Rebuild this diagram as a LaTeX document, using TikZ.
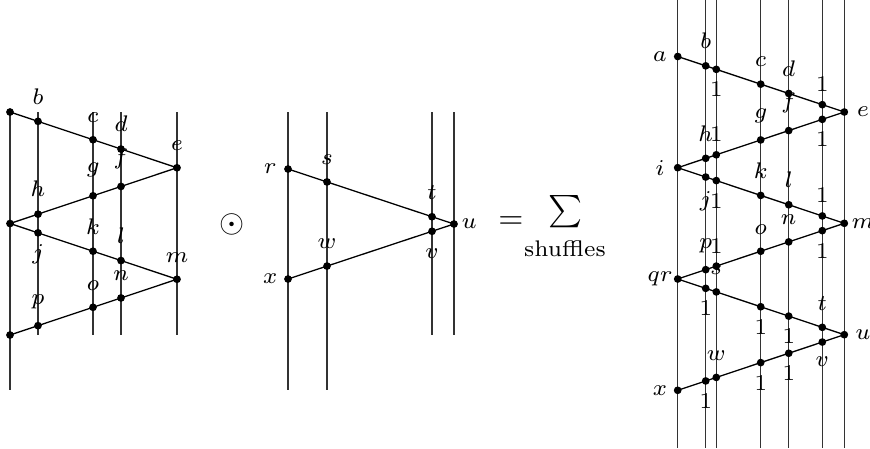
\documentclass[tikz,border=0pt]{standalone}
\usetikzlibrary{backgrounds}
\begin{document}
\begin{tikzpicture}[x=0.31pt,y=-0.31pt,
  dot/.style={circle,fill=black,inner sep=0pt,minimum size=2.4pt},
  vline/.style={line width=0.4pt,black!80},
  edge/.style={line width=0.4pt,black},
  every label/.append style={font=\scriptsize},
  label distance=0.4pt,
  lft/.style={label={[anchor=center,label distance=4.1pt]left:$#1$}},
  rgt/.style={label={[anchor=center,label distance=4.4pt]right:$#1$}},
  one/.style={label={[label distance=-0.9pt]#1:$1$}}]
\useasboundingbox (0,0) rectangle (870,448);

% ---------- left diagram ----------
\node[dot] (La) at (10,112) {};
\node[dot,label=above:$b$] (Lb) at (38,121.35) {};
\node[dot,label=above:$c$] (Lc) at (93,139.71) {};
\node[dot,label=above:$d$] (Ld) at (121,149.06) {};
\node[dot,label=above:$e$] (Le) at (177,167.75) {};
\node[dot,label=above:$f$] (Lf) at (121,186.44) {};
\node[dot,label={[label distance=1pt]above:$g$}] (Lg) at (93,195.79) {};
\node[dot,label=above:$h$] (Lh) at (38,214.15) {};
\node[dot] (Li) at (10,223.5) {};
\node[dot,label={[label distance=-1.4pt]below:$j$}] (Lj) at (38,232.85) {};
\node[dot,label=above:$k$] (Lk) at (93,251.21) {};
\node[dot,label=above:$l$] (Ll) at (121,260.56) {};
\node[dot,label=above:$m$] (Lm) at (177,279.25) {};
\node[dot,label=above:$n$] (Ln) at (121,297.94) {};
\node[dot,label=above:$o$] (Lo) at (93,307.29) {};
\node[dot,label=above:$p$] (Lp) at (38,325.65) {};
\node[dot] (Lq) at (10,335) {};
\coordinate (LB0) at (10,390);
\coordinate (LT1) at (38,112);  \coordinate (LB1) at (38,335);
\coordinate (LT2) at (93,112);  \coordinate (LB2) at (93,335);
\coordinate (LT3) at (121,112); \coordinate (LB3) at (121,335);
\coordinate (LT4) at (177,112); \coordinate (LB4) at (177,335);

% ---------- middle diagram ----------
\node[dot,lft=r] (Mr) at (288,169) {};
\node[dot,label=above:$s$] (Ms) at (327,181.92) {};
\node[dot,label=above:$t$] (Mt) at (432,216.71) {};
\node[dot,label={[anchor=center,label distance=3.3pt]right:$u$}] (Mu) at (454,224) {};
\node[dot,label=below:$v$] (Mv) at (432,231.29) {};
\node[dot,label=above:$w$] (Mw) at (327,266.08) {};
\node[dot,lft=x] (Mx) at (288,279) {};
\coordinate (MT1) at (288,112); \coordinate (MB1) at (288,390);
\coordinate (MT2) at (327,112); \coordinate (MB2) at (327,390);
\coordinate (MT3) at (432,112); \coordinate (MB3) at (432,335);
\coordinate (MT4) at (454,112); \coordinate (MB4) at (454,335);

% ---------- equation ----------
\node (odot) at (232,224) {$\odot$};
\node (eq) at (511,222.5) {$=$};
\node (sum) at (566,211.5) {$\sum$};
\node[font=\scriptsize] (shuf) at (565,248.5) {shuffles};

% ---------- right diagram ----------
\node[dot,lft=a] (Ra) at (677.7,56.5) {};
\node[dot,label=above:$b$] (Rb) at (705.7,65.83) {};
\node[dot,one=below] (Rb1) at (716.3,69.36) {};
\node[dot,label=above:$c$] (Rc) at (760.7,84.15) {};
\node[dot,label=above:$d$] (Rd) at (788.7,93.48) {};
\node[dot,one=above] (Re1) at (822.3,104.67) {};
\node[dot,rgt=e] (Re) at (844.3,112) {};
\node[dot,one=below] (Rf1) at (822.3,119.36) {};
\node[dot,label=above:$f$] (Rf) at (788.7,130.59) {};
\node[dot,label=above:$g$] (Rg) at (760.7,139.95) {};
\node[dot,one=above] (Rh1) at (716.3,154.8) {};
\node[dot,label=above:$h$] (Rh) at (705.7,158.34) {};
\node[dot,lft=i] (Ri) at (677.7,167.7) {};
\node[dot,label={[label distance=-0.4pt]below:$j$}] (Rj) at (705.7,177.05) {};
\node[dot,one=below] (Rj1) at (716.3,180.58) {};
\node[dot,label=above:$k$] (Rk) at (760.7,195.4) {};
\node[dot,label=above:$l$] (Rl) at (788.7,204.75) {};
\node[dot,one=above] (Rm1) at (822.3,215.96) {};
\node[dot,rgt=m] (Rm) at (844.3,223.3) {};
\node[dot,one=below] (Rn1) at (822.3,230.66) {};
\node[dot,label=above:$n$] (Rn) at (788.7,241.89) {};
\node[dot,label=above:$o$] (Ro) at (760.7,251.25) {};
\node[dot,one=above] (Rp1) at (716.3,266.09) {};
\node[dot,label=above:$p$] (Rp) at (705.7,269.64) {};
\node[dot,lft=qr] (Rq) at (677.7,279) {};
\node[dot,one=below] (Rs1) at (705.7,288.36) {};
\node[dot,label=above:$s$] (Rs) at (716.3,291.91) {};
\node[dot,one=below] (Rt1) at (760.7,306.75) {};
\node[dot,one=below] (Rt2) at (788.7,316.11) {};
\node[dot,label=above:$t$] (Rt) at (822.3,327.34) {};
\node[dot,rgt=u] (Ru) at (844.3,334.7) {};
\node[dot,label={[label distance=-0.4pt]below:$v$}] (Rv) at (822.3,342.04) {};
\node[dot,one=below] (Rv1) at (788.7,353.25) {};
\node[dot,one=below] (Rv2) at (760.7,362.6) {};
\node[dot,label=above:$w$] (Rw) at (716.3,377.42) {};
\node[dot,one=below] (Rw1) at (705.7,380.95) {};
\node[dot,lft=x] (Rx) at (677.7,390.3) {};
\foreach \i/\x in {1/677.7,2/705.7,3/716.3,4/760.7,5/788.7,6/822.3,7/844.3}{
  \coordinate (RT\i) at (\x,0);
  \coordinate (RB\i) at (\x,448);
}

\begin{scope}[on background layer]
  % verticals
  \draw[vline] (La.center) -- (LB0);
  \foreach \i in {1,...,4} \draw[vline] (LT\i) -- (LB\i);
  \foreach \i in {1,...,4} \draw[vline] (MT\i) -- (MB\i);
  \foreach \i in {1,...,7} \draw[vline] (RT\i) -- (RB\i);
  % edges
  \draw[edge] (La.center) -- (Le.center) -- (Li.center) -- (Lm.center) -- (Lq.center);
  \draw[edge] (Mr.center) -- (Mu.center) -- (Mx.center);
  \draw[edge] (Ra.center) -- (Re.center) -- (Ri.center) -- (Rm.center)
              -- (Rq.center) -- (Ru.center) -- (Rx.center);
\end{scope}
\end{tikzpicture}
\end{document}
